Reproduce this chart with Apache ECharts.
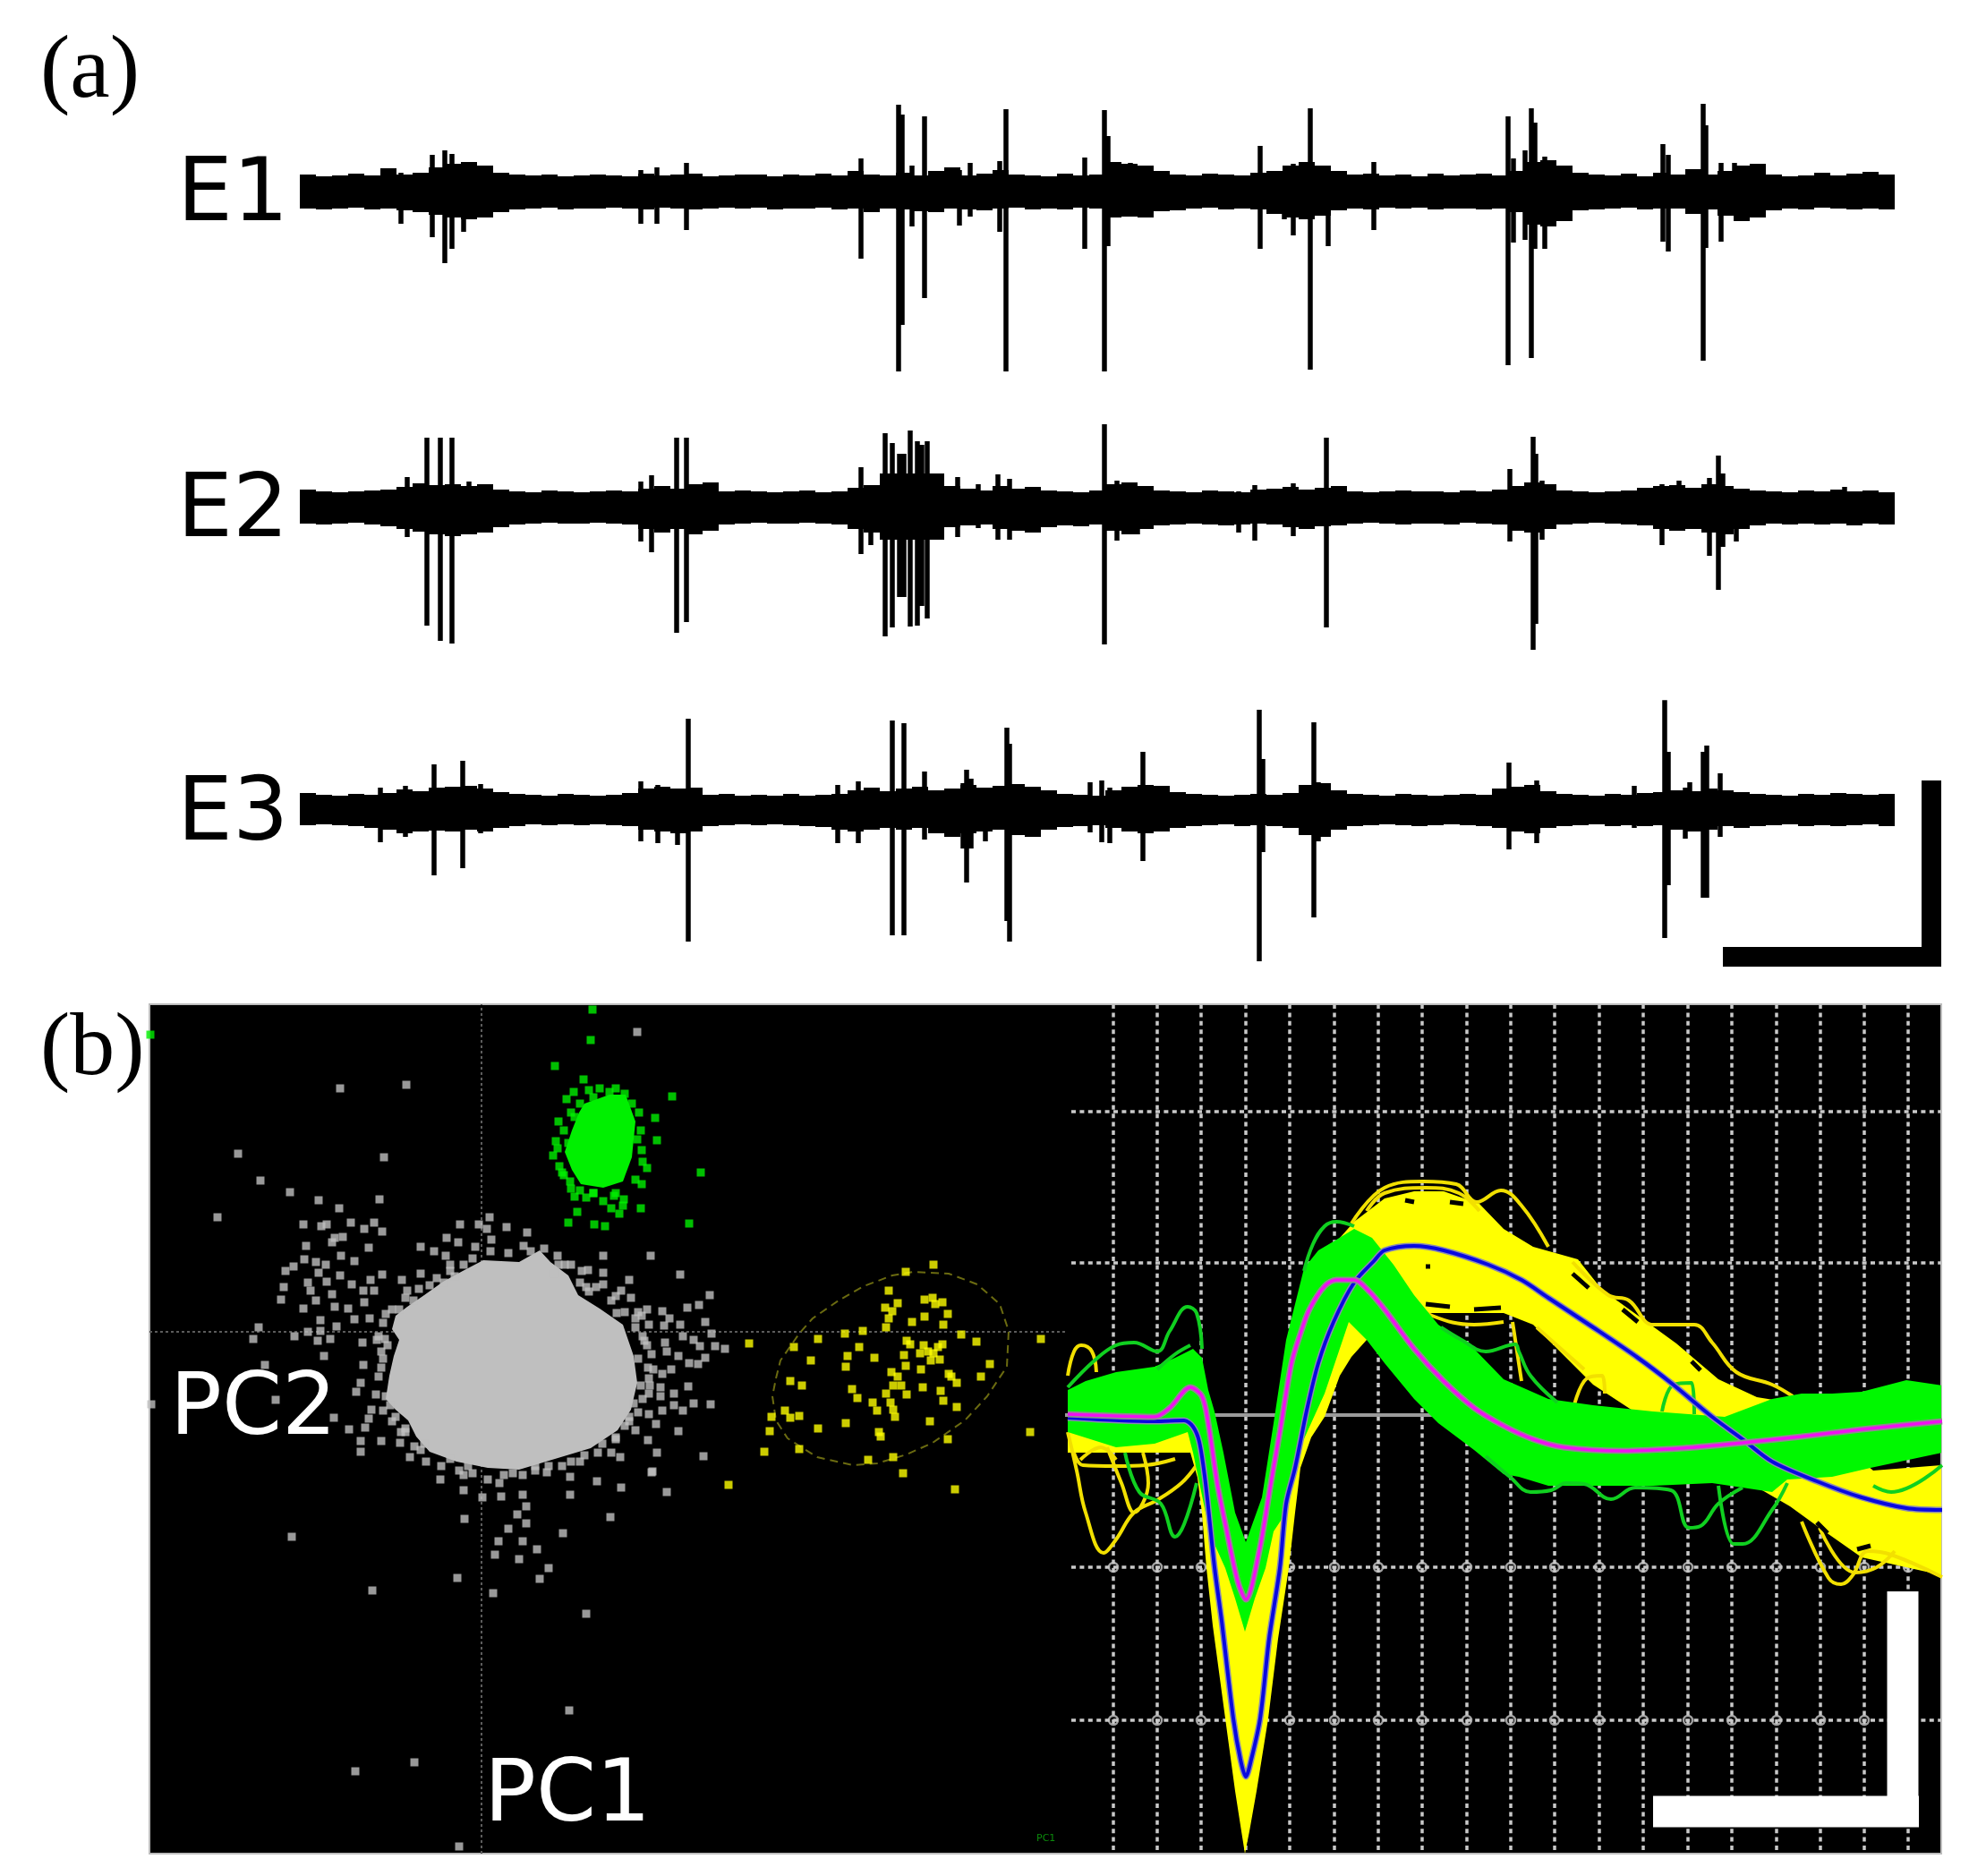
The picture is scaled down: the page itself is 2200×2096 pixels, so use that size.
<!DOCTYPE html>
<html>
<head>
<meta charset="utf-8">
<title>Spike traces and sorting</title>
<script src="https://cdn.jsdelivr.net/npm/echarts@6/dist/echarts.min.js"></script>
<style>
  html, body { margin: 0; padding: 0; background: #fff; }
  #chart { width: 2200px; height: 2096px; }
</style>
</head>
<body>
<div id="chart"></div>
<script>
// --- panel (a): traces. time = samples along the trace, one envelope value every 18
const envStep = 18;
const e1Up = [20,18,19,21,19,27,20,22,28,32, 34,30,22,20,19,20,18,19,20,19, 18,21,19,20,21,18,19,20,20,18, 20,19,21,19,24,20,19,22,19,24, 28,19,21,25,20,19,18,21,19,20, 34,32,30,24,20,19,21,20,19,22, 24,30,34,30,24,20,21,19,20,18, 21,19,20,21,19,24,34,36,30,22, 20,19,21,18,22,20,26,20,24,30, 32,20,18,19,22,19,21,23,20,22];
const e1Down = [-18,-19,-18,-17,-19,-18,-20,-22,-25,-28, -30,-28,-22,-19,-18,-17,-19,-18,-18,-17, -18,-19,-17,-18,-19,-18,-17,-18,-17,-19, -18,-18,-17,-19,-18,-22,-18,-19,-21,-22, -18,-19,-20,-18,-17,-19,-18,-19,-17,-18, -28,-27,-28,-21,-20,-18,-17,-19,-18,-19, -24,-28,-30,-26,-20,-18,-19,-17,-18,-17, -19,-18,-18,-19,-18,-22,-36,-38,-32,-20, -19,-18,-17,-19,-18,-18,-24,-19,-26,-32, -28,-20,-18,-19,-17,-18,-19,-18,-19,-18];
const e2Up = [20,18,17,18,19,20,23,27,25,26, 24,26,20,18,17,19,18,17,18,19, 18,21,24,21,26,28,18,19,18,17, 18,19,17,18,22,25,38,38,38,38, 24,21,19,24,21,23,19,18,17,19, 26,28,24,19,18,17,19,18,17,20, 21,23,20,22,24,18,17,18,19,18, 18,17,19,18,20,24,28,26,19,18, 17,18,19,22,24,25,22,26,24,21, 19,18,17,19,18,20,18,19,17,19];
const e2Down = [-18,-19,-18,-17,-19,-21,-24,-27,-30,-32, -30,-28,-22,-19,-18,-17,-18,-18,-17,-18, -19,-24,-28,-24,-30,-26,-19,-18,-17,-18, -18,-17,-18,-19,-24,-28,-36,-36,-36,-36, -22,-20,-19,-24,-26,-28,-22,-20,-21,-19, -26,-30,-24,-20,-19,-18,-19,-20,-19,-18, -19,-22,-24,-21,-20,-18,-17,-18,-19,-18, -18,-19,-17,-18,-19,-26,-28,-24,-19,-18, -17,-18,-19,-20,-24,-26,-24,-28,-30,-24, -20,-18,-19,-18,-19,-18,-20,-18,-19,-17];
const e3Up = [19,17,16,18,17,19,23,21,25,26, 27,24,20,18,17,16,18,17,16,17, 19,24,26,24,25,17,18,16,17,16, 18,16,17,18,22,25,21,24,26,22, 24,28,25,27,29,26,22,18,17,16, 22,26,28,27,20,18,17,16,17,18, 17,19,28,30,22,18,17,16,18,17, 16,17,18,17,24,26,28,21,18,17, 16,18,17,19,20,22,21,24,22,20, 18,17,16,18,17,19,18,17,18,19];
const e3Down = [-17,-16,-17,-18,-20,-22,-26,-24,-23,-24, -22,-24,-20,-18,-16,-17,-16,-17,-16,-17, -18,-22,-24,-26,-24,-18,-17,-16,-17,-16, -17,-18,-19,-22,-24,-22,-20,-22,-20,-26, -30,-26,-24,-22,-28,-30,-22,-19,-18,-17, -20,-24,-26,-24,-20,-18,-17,-16,-18,-17, -18,-20,-28,-30,-22,-18,-17,-16,-17,-18, -17,-16,-17,-18,-20,-24,-26,-20,-18,-17, -16,-18,-17,-18,-17,-22,-24,-22,-18,-20, -18,-17,-16,-18,-17,-18,-17,-16,-18,-17];
// [time, peak up, peak down]
const e1Spikes = [[113,22,-35],[148,42,-50],[162,47,-79],[170,43,-63],[183,33,-44],[381,25,-35],[399,28,-35],[432,33,-42],[627,38,-74],[669,98,-200],[673,87,-148],[684,30,-38],[698,85,-118],[737,25,-37],[749,33,-27],[782,35,-44],[789,93,-200],[877,39,-63],[899,92,-200],[903,63,-60],[928,33,-27],[1073,52,-63],[1100,22,-30],[1110,32,-48],[1129,94,-198],[1149,30,-60],[1200,34,-42],[1350,85,-193],[1356,38,-56],[1369,47,-53],[1376,94,-185],[1380,78,-63],[1391,40,-63],[1523,54,-55],[1529,42,-66],[1568,99,-188],[1571,75,-62],[1588,33,-55],[1603,33,-21]];
const e2Spikes = [[120,34,-33],[142,78,-132],[157,78,-149],[170,78,-152],[189,29,-28],[381,29,-38],[393,36,-50],[421,78,-140],[432,78,-128],[627,45,-52],[638,22,-42],[654,83,-144],[662,72,-134],[670,60,-100],[675,60,-100],[682,86,-133],[690,74,-132],[695,70,-110],[701,74,-124],[735,34,-33],[758,26,-23],[780,37,-36],[793,32,-36],[899,93,-153],[913,30,-37],[936,20,-30],[1049,18,-28],[1067,25,-37],[1110,27,-32],[1147,78,-134],[1352,43,-38],[1378,79,-159],[1381,60,-130],[1388,30,-36],[1522,26,-42],[1541,30,-22],[1575,33,-54],[1585,58,-92],[1590,38,-44],[1605,20,-38],[1726,23,-18]];
const e3Spikes = [[90,25,-36],[118,27,-30],[150,51,-73],[182,55,-65],[202,29,-26],[381,32,-35],[400,28,-37],[422,22,-39],[434,102,-147],[601,28,-37],[624,32,-37],[662,100,-140],[675,97,-140],[698,43,-33],[741,30,-43],[745,45,-81],[750,35,-43],[766,20,-35],[790,92,-124],[793,74,-147],[883,31,-25],[896,33,-36],[905,25,-37],[942,65,-57],[1072,112,-169],[1076,57,-47],[1133,98,-120],[1138,31,-35],[1351,53,-44],[1382,33,-37],[1491,27,-20],[1525,135,-143],[1529,65,-84],[1548,25,-32],[1553,31,-22],[1568,65,-98],[1572,72,-98],[1587,41,-30]];
const traceScaleBar = [[1823,33],[1823,-175],[null,null],[1590,-164],[1834,-164]];

// --- panel (b) left: PCA scatter, origin at the crosshair
const greyBlob = [[65,91],[42,78],[2,80],[-21,68],[-43,56],[-64,41],[-83,28],[-96,18],[-100,3],[-92,-9],[-98,-27],[-103,-49],[-107,-75],[-96,-87],[-82,-99],[-73,-117],[-58,-134],[-28,-145],[7,-152],[42,-154],[82,-142],[122,-130],[152,-110],[167,-87],[174,-57],[170,-27],[158,8],[132,26],[108,41],[97,63],[77,78]];
const greyPoints = [[-158,272],[-84,276],[-272,199],[-109,195],[-247,169],[-214,156],[-182,147],[-114,148],[-159,138],[-295,128],[-199,120],[-179,118],[-173,120],[-146,122],[-131,115],[-120,122],[-111,112],[-164,105],[-155,106],[-167,100],[-196,96],[-126,94],[-24,120],[-3,120],[9,128],[6,115],[28,117],[51,111],[11,103],[47,96],[-39,105],[-26,100],[-7,95],[-68,95],[-53,90],[-40,85],[-35,75],[-68,65],[-89,58],[-83,46],[-42,55],[-198,81],[-185,78],[-174,75],[-157,85],[-142,79],[-219,68],[-210,73],[-182,66],[-158,63],[-173,56],[-194,55],[-111,64],[-124,58],[-221,50],[-191,46],[-145,53],[-132,46],[-120,46],[-224,36],[-185,35],[-167,42],[-131,33],[-199,26],[-164,28],[-149,26],[-180,13],[-142,14],[-125,15],[-107,20],[-249,5],[-162,6],[-255,-8],[-209,-5],[-194,0],[-180,1],[-183,-10],[-169,-8],[-133,-12],[-117,-9],[-112,-22],[-176,-27],[-242,-37],[-132,-37],[-135,-57],[-140,-67],[-230,-76],[-107,-72],[-369,-81],[-123,-87],[-165,-96],[-126,-97],[-96,-95],[-148,-109],[-130,-107],[-85,-112],[-135,-122],[-112,-122],[-91,-124],[-135,-134],[-80,-140],[-64,-125],[-35,-142],
  [-46,-165],[-20,-160],[7,-165],[20,-169],[46,-160],[73,-157],[99,-162],[129,-167],[156,-174],[190,-157],[207,-179],[-20,-177],[1,-185],[22,-184],[46,-182],[99,-182],[50,-195],[40,-204],[144,-207],[-19,-209],[30,-220],[50,-214],[91,-225],[-212,-229],[19,-234],[46,-234],[62,-243],[15,-249],[42,-254],[75,-264],[-27,-275],[65,-276],[-122,-289],[13,-292],[117,-315],[98,-423],[-75,-481],[-141,-491],[-25,-575],
  [189,85],[222,64],[255,41],[243,30],[230,27],[185,25],[202,23],[210,15],[222,8],[187,8],[204,7],[250,11],[257,-2],[225,-5],[237,-9],[205,-12],[244,-16],[261,-16],[272,-19],[185,-15],[207,-22],[250,-29],[220,-27],[232,-35],[242,-36],[212,-42],[192,-42],[202,-47],[187,-52],[231,-61],[200,-62],[187,-69],[215,-69],[200,-72],[215,-82],[237,-80],[256,-81],[202,-88],[225,-88],[187,-92],[195,-103],[220,-111],[186,-121],[196,-135],[248,-139],[191,-156],
  [136,85],[119,69],[136,66],[165,58],[136,53],[156,46],[117,50],[167,38],[86,75],[70,93],[93,75],[81,65],[179,18],[151,21],[172,15],[180,-5],[175,-30],[178,-60],[170,-80],[160,-105],[150,-120],[130,-135],[110,-145],[90,-150],[60,-155],[165,-95],[145,-135],[172,-110],[155,-140],[174,335]];
const greyFringe = [[-20,75],[-30,62],[-50,60],[-70,48],[-85,38],[-100,25],[-110,10],[-115,-5],[-105,-15],[-110,-30],[-115,-50],[-118,-70],[-110,-88],[-100,-100],[-90,-112],[-75,-128],[-62,-145],[-45,-150],[-25,-155],[-10,-158],[25,-160],[60,-150],[100,-145],[135,-125],[165,-100],[180,-75],[186,-40],[182,-10],[172,5],[160,22],[145,35],[120,45],[110,55],[100,75],[85,85],[55,90],[30,88],[10,90],[-10,82],[-35,68],[-58,52],[-76,35],[-92,25],[-108,-8],[-112,-40],[-102,-82],[-85,-108],[-68,-132],[-15,-150],[35,-158],[75,-150],[115,-138],[150,-118],[175,-90],[188,-60],[190,-25],[175,22],[150,40],[128,50],[112,68]];
const greenBlob = [[115,255],[143,265],[161,265],[172,235],[168,195],[158,168],[136,161],[111,165],[101,181],[93,201],[101,225],[109,245]];
const greenPoints = [[124,360],[122,326],[82,297],[114,282],[103,268],[120,270],[143,268],[160,266],[86,235],[104,240],[83,213],[97,211],[80,197],[87,185],[99,168],[104,151],[117,150],[136,146],[158,141],[154,132],[97,122],[138,118],[179,165],[178,138],[179,203],[-370,332],[245,178],[232,121],[213,263],[196,214],[194,239],[185,183],[107,134],[145,138],[159,148],[126,120],[110,158],[125,155],[148,152],[92,175],
  [110,255],[125,262],[150,272],[168,255],[178,225],[180,190],[172,170],[150,155],[125,155],[100,160],[90,178],[85,205],[92,225],[100,245],[95,260],[132,272],[176,245],[174,215]];
const yellowPoints = [[299,-13],[276,-171],[316,-134],[322,-111],[324,-95],[339,-88],[345,-96],[355,-94],[345,-55],[358,-60],[349,-17],[368,-32],[376,-8],[406,-2],[426,1],[422,-17],[409,-27],[407,-39],[439,-29],[376,-108],[407,-102],[355,-131],[432,-143],[460,-140],[471,-158],[521,-120],[529,-176],[613,-112],[625,-8],[474,67],[505,75],[455,46],[465,32],[451,27],[459,23],[455,15],[452,5],[481,11],[495,36],[504,38],[515,33],[507,31],[495,17],[521,20],[516,8],[536,-3],[553,-11],[568,-36],[558,-50],[475,-10],[479,-14],[515,-14],[510,-17],[494,-15],[490,-24],[499,-22],[505,-24],[502,-32],[512,-31],[472,-26],[474,-38],[491,-42],[458,-45],[465,-50],[522,-47],[531,-57],[525,-50],[493,-62],[513,-66],[516,-77],[531,-84],[501,-100],[414,-64],[420,-74],[437,-79],[442,-88],[460,-60],[469,-60],[475,-70],[452,-69],[457,-79],[460,-87],[462,-95],[444,-112],[446,-117]];
const clusterOutline = [[329,-52],[334,-32],[355,-2],[370,15],[399,35],[427,51],[459,63],[482,67],[522,65],[554,53],[579,31],[589,1],[587,-39],[565,-72],[540,-99],[504,-124],[475,-137],[442,-147],[415,-149],[375,-140],[342,-119],[329,-99],[325,-72],[329,-52]];

// --- panel (b) right: waveforms
const gridX = [54,103,152,202,251,301,350,399,449,498,547,597,646,696,745,795,844,893,942];
const gridY = [339,170,-170,-341];
const ringY = [-170,-341];
const greenUpper = [[3,28],[23,38],[57,48],[100,54],[123,64],[143,74],[153,64],[160,28],[167,4],[177,-42],[190,-109],[202,-142],[220,-92],[233,-9],[247,84],[257,124],[267,164],[283,184],[300,194],[323,208],[343,198],[367,168],[390,134],[417,101],[457,74],[490,40],[540,18],[590,11],[657,4],[737,-2],[790,18],[823,24],[857,24],[890,26],[940,39],[980,33]];
const greenLower = [[3,-19],[57,-36],[100,-32],[137,-19],[143,-42],[157,-109],[165,-140],[179,-171],[190,-205],[201,-242],[212,-205],[224,-171],[233,-130],[247,-109],[260,-42],[290,24],[317,104],[337,84],[357,58],[390,18],[417,-9],[457,-39],[490,-66],[507,-69],[540,-79],[590,-79],[657,-79],[723,-76],[790,-86],[807,-72],[857,-69],[900,-59],[980,-42]];
const yellowUpper = [[3,-10],[140,-10],[160,-60],[175,-100],[190,-200],[201,-240],[212,-200],[225,-100],[240,10],[253,70],[275,130],[300,190],[323,216],[357,242],[390,250],[423,250],[463,236],[490,208],[523,188],[573,174],[600,140],[650,104],[683,80],[730,40],[773,20],[810,14],[903,-62],[980,-56]];
const yellowLower = [[3,-42],[140,-42],[148,-70],[153,-110],[158,-171],[165,-235],[179,-339],[190,-420],[197,-465],[201,-490],[206,-465],[214,-420],[227,-339],[238,-250],[250,-171],[257,-109],[263,-59],[275,-25],[290,-2],[307,44],[320,65],[337,84],[400,114],[490,114],[523,101],[573,51],[590,34],[657,-10],[703,-40],[810,-102],[843,-126],[890,-159],[980,-179]];
const meanBlue = [[3,-3],[60,-6],[100,-7],[133,-6],[143,-13],[150,-30],[157,-76],[167,-170],[175,-230],[188,-339],[196,-385],[202,-404],[208,-385],[218,-339],[228,-250],[240,-171],[247,-99],[257,-59],[270,5],[283,58],[300,104],[323,148],[345,172],[357,184],[390,189],[423,184],[473,168],[510,151],[540,131],[590,98],[640,64],[677,36],[723,-2],[757,-27],[790,-52],[840,-74],[890,-92],[940,-104],[980,-106]];
const meanMagenta = [[3,1],[100,-2],[117,8],[140,31],[153,21],[160,-9],[170,-76],[180,-126],[193,-186],[202,-206],[217,-152],[230,-76],[240,-19],[253,58],[263,91],[273,118],[290,144],[303,151],[323,151],[340,138],[357,118],[390,74],[423,38],[457,8],[490,-12],[523,-27],[557,-36],[623,-40],[690,-37],[757,-31],[823,-24],[890,-16],[980,-7]];
const yellowTraces = [
  [[3,44],[10,71],[18,78],[30,71],[35,48]],
  [[3,-19],[13,-62],[23,-109],[43,-154],[57,-139],[77,-109],[103,-95],[130,-76],[147,-56]],
  [[10,-42],[20,-56],[57,-57],[90,-56],[123,-49]],
  [[47,-36],[63,-76],[77,-109],[93,-76],[87,-42]],
  [[17,-50],[40,-36],[57,-50]],
  [[320,214],[357,254],[400,261],[437,258],[460,238],[487,251],[510,234],[540,188]],
  [[337,228],[357,248],[403,254],[440,248],[463,228]],
  [[567,171],[607,134],[630,128],[657,101],[703,101],[723,81],[750,48],[790,34],[813,21]],
  [[387,128],[410,111],[457,101],[490,104]],
  [[500,104],[510,38]],
  [[527,98],[580,51]],
  [[567,4],[583,41],[600,44],[603,24]],
  [[823,-119],[853,-182],[867,-189],[880,-179],[897,-152],[923,-156],[980,-181]],
  [[843,-126],[883,-176],[907,-170],[927,-152]]
];
const yellowGaps = [
  [[403,124],[430,121]],[[457,118],[487,120]],[[403,166],[408,166]],[[430,238],[445,236]],[[380,240],[390,238]],
  [[567,158],[585,142]],[[623,118],[640,104]],[[700,60],[710,50]],[[840,-120],[852,-132]],[[885,-150],[900,-146]]
];
const greenTraces = [
  [[3,31],[33,61],[57,78],[77,81],[103,71],[117,94],[137,121],[147,114],[153,74]],
  [[103,51],[123,68],[140,78]],
  [[67,-42],[83,-86],[107,-99],[123,-136],[133,-122],[147,-76]],
  [[267,161],[277,191],[290,211],[303,216],[323,211]],
  [[420,98],[443,84],[470,71],[503,79],[507,71],[520,44],[550,14]],
  [[470,-46],[497,-69],[520,-86],[543,-84],[560,-76],[580,-77],[610,-94],[637,-81],[677,-84],[697,-126],[710,-124],[730,-99],[757,-81]],
  [[730,-79],[747,-144],[757,-144],[790,-106],[807,-76]],
  [[667,4],[680,34],[700,36],[703,1]],
  [[903,-79],[923,-86],[980,-56]]
];
const waveScaleBar = [[936,-197],[936,-460],[null,null],[657,-443],[954,-443]];

const withGaps = (lines) => {
  const out = [];
  lines.forEach(l => { out.push(...l, [null, null]); });
  return out;
};

const spikeLines = (spikes) => withGaps(spikes.map(s => [[s[0], s[1]], [s[0], s[2]]]));

const stepped = (vals) => {
  const pts = [];
  vals.forEach((v, i) => {
    pts.push([i * envStep, v], [Math.min((i + 1) * envStep, 1782), v]);
  });
  return pts;
};

// closed shape through the library's scale
const shape = (axis, pts, color, z) => ({
  type: 'custom', xAxisIndex: axis, yAxisIndex: axis, z, silent: true, clip: true,
  data: [[0, 0]],
  renderItem: (params, api) => ({
    type: 'polygon',
    shape: { points: pts.map(p => api.coord(p)) },
    style: { fill: color }
  })
});

const line = (axis, data, color, width, z, extra, smooth) => ({
  type: 'line', xAxisIndex: axis, yAxisIndex: axis, data, z, silent: true,
  symbol: 'none', animation: false, connectNulls: false, clip: true, smooth: smooth || false,
  lineStyle: Object.assign({ color, width, cap: 'butt' }, extra || {})
});

const dots = (axis, data, color, size) => ({
  type: 'scatter', xAxisIndex: axis, yAxisIndex: axis, data, z: 5, silent: true,
  symbol: 'rect', symbolSize: size, itemStyle: { color }, animation: false
});

// grids: 0-2 traces, 3 panel back, 4 scatter, 5 waveforms
const grids = [
  { left: 335, top: 95, width: 1835, height: 340 },
  { left: 335, top: 447, width: 1835, height: 340 },
  { left: 335, top: 785, width: 1835, height: 340 },
  { left: 167, top: 1122, width: 2002, height: 949, show: true, backgroundColor: '#000', borderColor: '#bdbdbd', borderWidth: 2 },
  { left: 167, top: 1122, width: 1023, height: 949 },
  { left: 1190, top: 1122, width: 979, height: 949 }
];
const hidden = (i, min, max) => ({ type: 'value', gridIndex: i, min, max, show: false });
const xAxes = [hidden(0, 0, 1835), hidden(1, 0, 1835), hidden(2, 0, 1835), hidden(3, 0, 1), hidden(4, -371, 652), hidden(5, 0, 979)];
const yAxes = [hidden(0, -220, 120), hidden(1, -220, 120), hidden(2, -220, 120), hidden(3, 0, 1), hidden(4, -583, 366), hidden(5, -490, 459)];

const traces = [[e1Up, e1Down, e1Spikes], [e2Up, e2Down, e2Spikes], [e3Up, e3Down, e3Spikes]];
const series = [];
traces.forEach((t, i) => {
  series.push(shape(i, stepped(t[0]).concat(stepped(t[1]).reverse()), '#000', 2));
  series.push(line(i, spikeLines(t[2]), '#000', 5.5, 3));
});
series.push(line(2, traceScaleBar, '#000', 22, 3));

// scatter
series.push(line(4, [[0, -583], [0, 366], [null, null], [-371, 0], [652, 0]], '#5c5c5c', 2, 2, { type: [3, 3] }));
series.push(shape(4, greyBlob, '#bfbfbf', 3));
series.push(dots(4, greyPoints, '#bfbfbf', 9));
series.push(dots(4, greyFringe, '#bfbfbf', 9));
series.push(shape(4, greenBlob, '#00f000', 4));
series.push(dots(4, greenPoints, '#00f000', 9));
series.push(line(4, clusterOutline, '#6a6a10', 2, 4, { type: [9, 6] }));
series.push(dots(4, yellowPoints, '#ffff00', 9));

// waveforms
series.push(line(5, withGaps(gridX.map(x => [[x, 459], [x, -490]])), '#c9c9c9', 3.5, 1, { type: [5, 4.4] }));
series.push(line(5, withGaps(gridY.map(y => [[7, y], [979, y]])), '#c9c9c9', 3.5, 1, { type: [5, 4.4] }));
series.push(line(5, [[0, 0], [979, 0]], '#9a9a9a', 4, 1));
const rings = [];
ringY.forEach(y => gridX.forEach(x => rings.push([x, y])));
series.push({ type: 'scatter', xAxisIndex: 5, yAxisIndex: 5, data: rings, z: 1, silent: true, animation: false, symbol: 'circle', symbolSize: 10, itemStyle: { color: 'transparent', borderColor: '#c9c9c9', borderWidth: 2.5 } });
series.push(shape(5, yellowUpper.concat(yellowLower.slice().reverse()), '#ffff00', 3));
series.push(line(5, withGaps(yellowTraces), '#f2e000', 4, 3, null, 0.4));
series.push(line(5, withGaps(yellowGaps), '#000', 5, 4));
series.push(shape(5, greenUpper.concat(greenLower.slice().reverse()), '#00f800', 5));
series.push(line(5, withGaps(greenTraces), '#10d020', 4, 5, null, 0.4));
series.push(line(5, meanBlue, '#8a8ab0', 7, 6, null, 0.3));
series.push(line(5, meanBlue, '#0808e0', 4, 6, null, 0.3));
series.push(line(5, meanMagenta, '#8c8c8c', 7, 6, null, 0.3));
series.push(line(5, meanMagenta, '#f010f0', 3.5, 6, null, 0.3));
series.push(line(5, waveScaleBar, '#fff', 35, 7));

const label = (text, x, y, font, fill) => ({
  type: 'text', x, y, z: 20, silent: true,
  style: { text, font, fill, verticalAlign: 'middle' }
});
const sans = '"DejaVu Sans", Verdana, sans-serif';
const graphics = [
  label('(a)', 45, 82, '100px "Liberation Serif", serif', '#000'),
  label('(b)', 45, 1174, '100px "Liberation Serif", serif', '#000'),
  label('E1', 198, 221, '98px ' + sans, '#000'),
  label('E2', 198, 574, '98px ' + sans, '#000'),
  label('E3', 198, 913, '98px ' + sans, '#000'),
  label('PC2', 190, 1577, '96px ' + sans, '#fff'),
  label('PC1', 541, 2009, '96px ' + sans, '#fff'),
  label('PC1', 1158, 2054, '11px ' + sans, '#0c8a0c')
];

const chart = echarts.init(document.getElementById('chart'), null, { renderer: 'canvas' });
chart.setOption({
  animation: false,
  backgroundColor: '#fff',
  grid: grids,
  xAxis: xAxes,
  yAxis: yAxes,
  graphic: graphics,
  series
});
</script>
</body>
</html>
